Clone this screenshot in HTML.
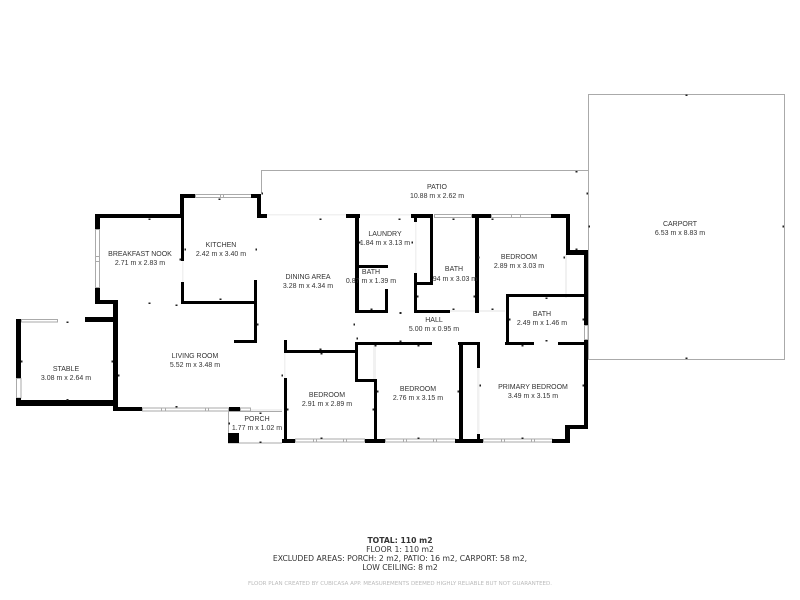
<!DOCTYPE html>
<html><head><meta charset="utf-8"><style>
html,body{margin:0;padding:0;background:#fff}
svg{display:block}
.l{font-family:"Liberation Sans",sans-serif;font-size:7px;fill:#333;text-anchor:middle}
.f{font-family:"DejaVu Sans",sans-serif;font-size:7.7px;fill:#333;text-anchor:middle}
</style></head><body>
<svg width="800" height="600" viewBox="0 0 800 600" xmlns="http://www.w3.org/2000/svg">
<defs></defs>
<!-- outline areas -->
<g fill="none" stroke="#aaa" stroke-width="1">
<rect x="588.5" y="94.5" width="196" height="265"/>
<path d="M261.5 193V170.5H588.5"/>
<path d="M251 411.500H228.500V443H282M251 411.500H282"/>
</g>
<!-- faint openings -->
<g fill="#f1f1f1">
<rect x="267" y="214" width="79" height="1.5"/><rect x="360" y="214" width="51" height="1.5"/>
<rect x="415" y="222" width="1.5" height="51"/><rect x="450" y="310" width="25" height="2"/><rect x="478" y="310" width="27" height="2"/>
<rect x="565" y="254" width="2" height="44"/><rect x="182" y="261" width="1.5" height="21"/>
<rect x="284" y="353" width="1.5" height="25"/><rect x="373" y="345" width="3" height="34"/>
<rect x="477" y="368" width="2.5" height="66"/><rect x="251" y="409" width="31" height="2"/>
</g>
<!-- windows -->
<g fill="#fff" stroke="#aaa" stroke-width="1">
<rect x="195.5" y="194.5" width="56" height="3"/><rect x="95.500" y="229.500" width="4" height="58"/>
<rect x="21.500" y="319.500" width="36" height="2.500"/><rect x="16.500" y="378.500" width="4.500" height="19.500"/>
<rect x="142.500" y="408" width="86" height="3"/><rect x="240.500" y="408" width="10" height="3"/>
<rect x="434.500" y="214.500" width="37" height="3"/><rect x="491.500" y="214.500" width="60" height="3"/>
<rect x="295.500" y="439" width="69" height="3"/><rect x="385.500" y="439" width="70" height="3"/>
<rect x="483.500" y="439" width="69" height="3"/><rect x="584.500" y="325.500" width="3.500" height="14"/>
</g>
<!-- window mullions -->
<g stroke="#aaa" stroke-width="1" fill="none">
<path d="M220.500 194V198M223.500 194V198M511.500 214V218M520.500 214V218M161.500 408V411M165.500 408V411M205.500 408V411M208.500 408V411M313.500 439V442M316.500 439V442M343.500 439V442M346.500 439V442M403.500 439V442M406.500 439V442M433.500 439V442M436.500 439V442M501.500 439V442M504.500 439V442M531.500 439V442M534.500 439V442M95 256.500H100M95 261.500H100"/>
</g>
<!-- walls -->
<g fill="#000">
<rect x="95" y="214" width="87" height="4"/><rect x="95" y="214" width="5" height="15"/><rect x="95" y="288" width="5" height="16"/>
<rect x="95" y="300" width="23" height="4"/><rect x="113" y="300" width="5" height="111"/><rect x="113" y="407" width="29" height="4"/>
<rect x="229" y="407" width="11" height="4"/><rect x="16" y="319" width="5" height="59"/><rect x="16" y="398" width="5" height="8"/>
<rect x="16" y="400" width="100" height="6"/><rect x="85" y="317" width="30" height="5"/>
<rect x="180" y="194" width="15" height="4"/><rect x="180" y="194" width="4" height="21"/><rect x="181" y="215" width="3" height="46"/>
<rect x="181" y="282" width="3" height="22"/><rect x="181" y="301" width="76" height="3"/><rect x="254" y="280" width="3" height="63"/>
<rect x="234" y="340" width="23" height="3"/><rect x="251" y="194" width="10" height="4"/><rect x="257" y="194" width="4" height="24"/>
<rect x="257" y="214" width="10" height="4"/><rect x="346" y="214" width="14" height="4"/><rect x="355" y="214" width="4" height="99"/>
<rect x="357" y="265" width="31" height="3"/><rect x="385" y="289" width="3" height="24"/><rect x="357" y="310" width="31" height="3"/>
<rect x="411" y="214" width="22" height="4"/><rect x="414" y="214" width="3" height="8"/><rect x="414" y="273" width="3" height="40"/>
<rect x="414" y="310" width="36" height="3"/><rect x="430" y="214" width="3" height="70"/><rect x="416" y="282" width="17" height="3"/>
<rect x="472" y="214" width="19" height="4"/><rect x="475" y="214" width="4" height="99"/><rect x="551" y="214" width="18" height="4"/>
<rect x="566" y="214" width="4" height="40"/><rect x="566" y="250" width="22" height="5"/><rect x="584" y="250" width="4" height="75"/>
<rect x="584" y="340" width="4" height="89"/><rect x="506" y="294" width="79" height="3"/><rect x="506" y="294" width="3" height="51"/>
<rect x="505" y="342" width="29" height="3"/><rect x="558" y="342" width="27" height="3"/><rect x="355" y="342" width="77" height="3"/>
<rect x="355" y="342" width="3" height="40"/><rect x="458" y="342" width="22" height="3"/><rect x="284" y="350" width="73" height="3"/>
<rect x="284" y="340" width="3" height="13"/><rect x="284" y="378" width="3" height="62"/><rect x="356" y="379" width="21" height="3"/>
<rect x="374" y="380" width="3" height="60"/><rect x="459" y="342" width="4" height="98"/><rect x="477" y="342" width="3" height="26"/>
<rect x="477" y="434" width="3" height="6"/><rect x="282" y="439" width="13" height="4"/><rect x="365" y="439" width="20" height="4"/>
<rect x="455" y="439" width="28" height="4"/><rect x="552" y="439" width="18" height="4"/><rect x="565" y="425" width="5" height="18"/>
<rect x="565" y="425" width="23" height="4"/><rect x="228" y="433" width="11" height="10"/>
</g>
<!-- measurement ticks -->
<g fill="#222">
<rect x="148.500" y="218.500" width="2" height="1.500"/><rect x="218.500" y="198.500" width="2" height="1.500"/>
<rect x="184.500" y="248.500" width="1.500" height="2"/><rect x="179.500" y="258.500" width="1.500" height="2"/>
<rect x="255.500" y="248.500" width="1.500" height="2"/><rect x="148.500" y="302.500" width="2" height="1.500"/>
<rect x="175.500" y="304.500" width="2" height="1.500"/><rect x="219.500" y="298.500" width="2" height="1.500"/>
<rect x="257" y="323.500" width="1.500" height="2"/><rect x="66.500" y="321.500" width="2" height="1.500"/>
<rect x="21" y="360.500" width="1.500" height="2"/><rect x="111.500" y="360.500" width="1.500" height="2"/>
<rect x="118" y="374.500" width="1.500" height="2"/><rect x="66.500" y="399" width="2" height="1.500"/>
<rect x="175.500" y="406" width="2" height="1.500"/><rect x="228.500" y="422.500" width="1.500" height="2"/>
<rect x="259.500" y="412.500" width="2" height="1.500"/><rect x="259.500" y="441.500" width="2" height="1.500"/>
<rect x="575.500" y="171" width="2" height="1.500"/><rect x="586.500" y="192.500" width="1.500" height="2"/>
<rect x="261.500" y="192.500" width="1.500" height="2"/><rect x="319.500" y="218.500" width="2" height="1.500"/>
<rect x="398.500" y="218.500" width="2" height="1.500"/><rect x="452.500" y="218.500" width="2" height="1.500"/>
<rect x="491.500" y="218.500" width="2" height="1.500"/><rect x="359" y="241.500" width="1.500" height="2"/>
<rect x="411.500" y="241.500" width="1.500" height="2"/><rect x="478" y="256.500" width="1.500" height="2"/>
<rect x="563.500" y="256.500" width="1.500" height="2"/><rect x="575.500" y="248.500" width="2" height="1.500"/>
<rect x="370.500" y="308.500" width="2" height="1.500"/><rect x="417" y="295.500" width="1.500" height="2"/>
<rect x="473.500" y="295.500" width="1.500" height="2"/><rect x="399.500" y="312" width="2" height="2"/>
<rect x="452.500" y="308.500" width="2" height="1.500"/><rect x="491.500" y="308.500" width="2" height="1.500"/>
<rect x="545.500" y="297.500" width="2" height="1.500"/><rect x="509" y="318.500" width="1.500" height="2"/>
<rect x="582.500" y="318.500" width="1.500" height="2"/><rect x="353.500" y="323.500" width="1.500" height="2"/>
<rect x="356.500" y="337.500" width="1.500" height="2"/><rect x="374.500" y="345" width="2" height="1.500"/>
<rect x="399.500" y="340.500" width="2" height="1.500"/><rect x="417.500" y="345" width="2" height="1.500"/>
<rect x="521.500" y="345" width="2" height="1.500"/><rect x="545.500" y="340" width="2" height="1.500"/>
<rect x="319.500" y="348.500" width="2" height="1.500"/><rect x="320.500" y="353" width="2" height="1.500"/>
<rect x="281.500" y="374.500" width="1.500" height="2"/><rect x="287" y="408.500" width="1.500" height="2"/>
<rect x="372.500" y="408.500" width="1.500" height="2"/><rect x="377" y="390.500" width="1.500" height="2"/>
<rect x="457.500" y="390.500" width="1.500" height="2"/><rect x="479.500" y="384.500" width="1.500" height="2"/>
<rect x="582.500" y="384.500" width="1.500" height="2"/><rect x="320.500" y="437.500" width="2" height="1.500"/>
<rect x="417.500" y="437.500" width="2" height="1.500"/><rect x="521.500" y="437.500" width="2" height="1.500"/>
<rect x="685.500" y="94.500" width="2" height="1.500"/><rect x="588.500" y="225.500" width="1.500" height="2"/>
<rect x="782.500" y="225.500" width="1.500" height="2"/><rect x="685.500" y="357.500" width="2" height="1.500"/>
</g>
<!-- labels -->
<text class="l"><tspan x="437" y="189">PATIO</tspan><tspan x="437" y="198">10.88 m x 2.62 m</tspan></text>
<text class="l"><tspan x="680" y="226">CARPORT</tspan><tspan x="680" y="235">6.53 m x 8.83 m</tspan></text>
<text class="l"><tspan x="140" y="256">BREAKFAST NOOK</tspan><tspan x="140" y="265">2.71 m x 2.83 m</tspan></text>
<text class="l"><tspan x="221" y="247">KITCHEN</tspan><tspan x="221" y="256">2.42 m x 3.40 m</tspan></text>
<text class="l"><tspan x="308" y="279">DINING AREA</tspan><tspan x="308" y="288">3.28 m x 4.34 m</tspan></text>
<text class="l"><tspan x="385" y="236">LAUNDRY</tspan><tspan x="385" y="245">1.84 m x 3.13 m</tspan></text>
<text class="l"><tspan x="371" y="274">BATH</tspan><tspan x="371" y="283">0.87 m x 1.39 m</tspan></text>
<text class="l"><tspan x="454" y="271">BATH</tspan><tspan x="454" y="281">.94 m x 3.03 m</tspan></text>
<text class="l"><tspan x="519" y="259">BEDROOM</tspan><tspan x="519" y="268">2.89 m x 3.03 m</tspan></text>
<text class="l"><tspan x="542" y="316">BATH</tspan><tspan x="542" y="325">2.49 m x 1.46 m</tspan></text>
<text class="l"><tspan x="434" y="322">HALL</tspan><tspan x="434" y="331">5.00 m x 0.95 m</tspan></text>
<text class="l"><tspan x="195" y="358">LIVING ROOM</tspan><tspan x="195" y="367">5.52 m x 3.48 m</tspan></text>
<text class="l"><tspan x="66" y="371">STABLE</tspan><tspan x="66" y="380">3.08 m x 2.64 m</tspan></text>
<text class="l"><tspan x="327" y="397">BEDROOM</tspan><tspan x="327" y="406">2.91 m x 2.89 m</tspan></text>
<text class="l"><tspan x="418" y="391">BEDROOM</tspan><tspan x="418" y="400">2.76 m x 3.15 m</tspan></text>
<text class="l"><tspan x="533" y="389">PRIMARY BEDROOM</tspan><tspan x="533" y="398">3.49 m x 3.15 m</tspan></text>
<text class="l"><tspan x="257" y="421">PORCH</tspan><tspan x="257" y="430">1.77 m x 1.02 m</tspan></text>
<!-- footer -->
<text class="f" x="400" y="543" style="font-weight:bold">TOTAL: 110 m2</text>
<text class="f" x="400" y="552">FLOOR 1: 110 m2</text>
<text class="f" x="400" y="561">EXCLUDED AREAS: PORCH: 2 m2, PATIO: 16 m2, CARPORT: 58 m2,</text>
<text class="f" x="400" y="570">LOW CEILING: 8 m2</text>
<text class="f" x="400" y="585" style="font-size:5.5px;fill:#bbb">FLOOR PLAN CREATED BY CUBICASA APP. MEASUREMENTS DEEMED HIGHLY RELIABLE BUT NOT GUARANTEED.</text>
</svg>
</body></html>
